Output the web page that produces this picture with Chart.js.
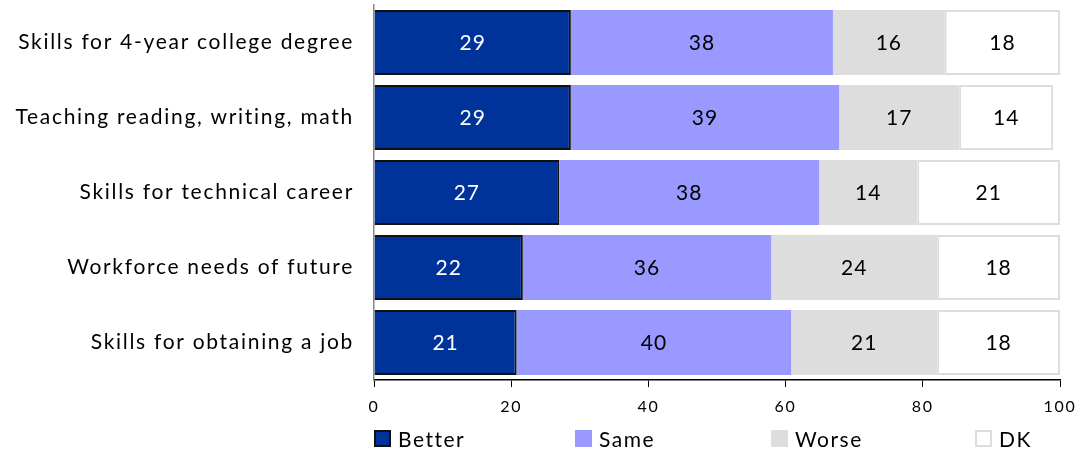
<!DOCTYPE html>
<html>
<head>
<meta charset="utf-8">
<script src="https://cdn.jsdelivr.net/npm/chart.js@4/dist/chart.umd.min.js"></script>
<style>
  body { margin: 0; background: #fff; }
  #wrap { position: relative; width: 1076px; height: 451px; }
  #legend { position: absolute; left: 374px; top: 426px; font-family: Lato, "Open Sans", sans-serif; font-size: 21px; color: #000; }
  .item { position: absolute; top: 0; white-space: nowrap; display: flex; align-items: center; letter-spacing: 1.5px; }
  .box { width: 17px; height: 17px; margin-right: 7px; box-sizing: border-box; }
</style>
</head>
<body>
<div id="wrap">
  <canvas id="myChart" width="1076" height="451"></canvas>
  <div id="legend"></div>
</div>
<script>
// categories and series
var categories = ['Skills for 4-year college degree', 'Teaching reading, writing, math', 'Skills for technical career', 'Workforce needs of future', 'Skills for obtaining a job'];
var seriesNames = ['Better', 'Same', 'Worse', 'DK'];

// bar lengths as drawn
var better = [28.7, 28.7, 27.0, 21.7, 20.8];
var same = [38.2, 39.1, 37.9, 36.2, 40.0];
var worse = [16.3, 17.5, 14.3, 24.2, 21.3];
var dk = [16.8, 13.7, 20.8, 17.9, 17.9];

// numbers printed on the bars
var betterLabels = [29, 29, 27, 22, 21];
var sameLabels = [38, 39, 38, 36, 40];
var worseLabels = [16, 17, 14, 24, 21];
var dkLabels = [18, 14, 21, 18, 18];

var xTicks = [0, 20, 40, 60, 80, 100];

var fontFamily = 'Lato, "Open Sans", sans-serif';

const data = {
    labels: categories,
    datasets: [{
        label: seriesNames[0],
        data: better,
        shown: betterLabels,
        backgroundColor: '#003399',
        borderColor: '#111111',
        borderWidth: 2,
        textColor: '#ffffff'
    }, {
        label: seriesNames[1],
        data: same,
        shown: sameLabels,
        backgroundColor: '#9999ff',
        borderWidth: 0,
        textColor: '#000000'
    }, {
        label: seriesNames[2],
        data: worse,
        shown: worseLabels,
        backgroundColor: '#dddddd',
        borderWidth: 0,
        textColor: '#000000'
    }, {
        label: seriesNames[3],
        data: dk,
        shown: dkLabels,
        backgroundColor: '#ffffff',
        borderColor: '#dddddd',
        borderWidth: 2,
        borderSkipped: false,
        textColor: '#000000'
    }]
};

// wider letter spacing for the category names
const spacing = {
    id: 'spacing',
    beforeDraw(chart) { chart.ctx.letterSpacing = '1.7px'; }
};

// write the numbers in the middle of each segment
const barText = {
    id: 'barText',
    afterDatasetsDraw(chart) {
        const ctx = chart.ctx;
        ctx.save();
        ctx.font = '21px ' + fontFamily;
        ctx.letterSpacing = '1px';
        ctx.textAlign = 'center';
        ctx.textBaseline = 'middle';
        chart.data.datasets.forEach(function (ds, i) {
            chart.getDatasetMeta(i).data.forEach(function (bar, j) {
                ctx.fillStyle = ds.textColor;
                ctx.fillText(String(ds.shown[j]), (bar.x + bar.base) / 2, bar.y + 1);
            });
        });
        ctx.restore();
    }
};

const config = {
    type: 'bar',
    data: data,
    options: {
        indexAxis: 'y',
        responsive: false,
        animation: false,
        layout: { padding: { left: 0, right: 16, top: 5, bottom: 31 } },
        plugins: {
            legend: { display: false },
            tooltip: { enabled: false }
        },
        datasets: {
            bar: { barPercentage: 0.867, categoryPercentage: 1 }
        },
        scales: {
            x: {
                stacked: true,
                min: 0,
                max: 100,
                afterBuildTicks: function (scale) {
                    scale.ticks = xTicks.map(function (v) { return { value: v }; });
                },
                afterFit: function (scale) {
                    scale.height = 40;
                    scale.paddingLeft = 0;
                    scale.paddingRight = 0;
                },
                grid: { drawOnChartArea: false, drawTicks: true, tickLength: 7, color: '#000000' },
                border: { display: true, color: '#000000', width: 1.5 },
                ticks: { color: '#000000', font: { family: fontFamily, size: 16 }, padding: 10, maxRotation: 0 }
            },
            y: {
                stacked: true,
                afterFit: function (scale) {
                    scale.width = 374;
                    scale.paddingTop = 0;
                    scale.paddingBottom = 0;
                },
                grid: { drawOnChartArea: false, drawTicks: false },
                border: { display: true, color: '#888888', width: 1.5 },
                ticks: { color: '#000000', font: { family: fontFamily, size: 21 }, padding: 20 }
            }
        }
    },
    plugins: [spacing, barText]
};

const myChart = new Chart(document.getElementById('myChart'), config);

// legend under the axis
var legendX = [0, 201, 397, 601];
var legendEl = document.getElementById('legend');
data.datasets.forEach(function (ds, i) {
    var item = document.createElement('div');
    item.className = 'item';
    item.style.left = legendX[i] + 'px';
    var box = document.createElement('span');
    box.className = 'box';
    box.style.background = ds.backgroundColor;
    if (ds.borderWidth) box.style.border = '2px solid ' + (i === 0 ? '#111111' : '#dddddd');
    item.appendChild(box);
    item.appendChild(document.createTextNode(ds.label));
    legendEl.appendChild(item);
});
</script>
</body>
</html>
